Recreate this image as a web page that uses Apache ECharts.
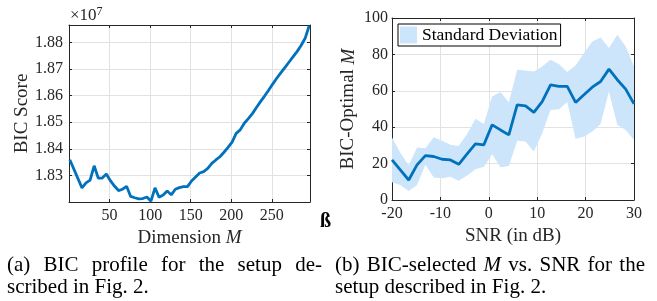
<!DOCTYPE html>
<html>
<head>
<meta charset="utf-8">
<script src="https://cdn.jsdelivr.net/npm/echarts@6/dist/echarts.min.js"></script>
<style>
html, body { margin: 0; padding: 0; background: #fff; }
#main { width: 657px; height: 301px; }
</style>
</head>
<body>
<div id="main"></div>
<script>
// (a) BIC profile, scores in units of 1e7
var dimM = [1, 16, 21, 26, 31, 36, 41, 46, 51, 56, 61, 66, 71, 76, 81, 86, 91, 96, 101, 106,
  111, 116, 121, 126, 131, 136, 141, 146, 151, 156, 161, 166, 171, 176, 181, 186, 191, 196,
  201, 206, 211, 216, 221, 226, 231, 236, 241, 246, 251, 256, 261, 266, 271, 276, 281, 286, 291, 296];
var bicScore = [1.8359, 1.8253, 1.8272, 1.8282, 1.8336, 1.8290, 1.8290, 1.8305, 1.8280, 1.8260,
  1.8243, 1.8248, 1.8259, 1.8221, 1.8216, 1.8212, 1.8213, 1.8219, 1.8203, 1.8253,
  1.8218, 1.8226, 1.8241, 1.8227, 1.8248, 1.8254, 1.8258, 1.8258, 1.8279, 1.8294,
  1.8309, 1.8314, 1.8326, 1.8345, 1.8358, 1.8370, 1.8387, 1.8405, 1.8425, 1.8458,
  1.8471, 1.8496, 1.8513, 1.8532, 1.8555, 1.8577, 1.8598, 1.8620, 1.8643, 1.8665,
  1.8685, 1.8705, 1.8725, 1.8745, 1.8765, 1.8788, 1.8815, 1.8862];

// (b) BIC-optimal M vs SNR
var snrDb = [-20, -18.28, -16.55, -14.83, -13.10, -11.38, -9.66, -7.93, -6.21, -4.48,
  -2.76, -1.03, 0.69, 2.41, 4.14, 5.86, 7.59, 9.31, 11.03, 12.76,
  14.48, 16.21, 17.93, 19.66, 21.38, 23.10, 24.83, 26.55, 28.28, 30];
var meanM = [22, 16.5, 11, 19.3, 24.4, 23.9, 22.4, 22, 19.6, 25.3,
  30.8, 30.3, 41.3, 38.5, 35.8, 52.3, 51.7, 48.1, 54.1, 63.3,
  62.4, 62.4, 53.6, 57.8, 62, 65.1, 71.9, 66.1, 60.9, 52.8];
var upperM = [34.3, 26, 18.9, 28.8, 28.4, 34.5, 32.5, 30.3, 29.7, 36.3,
  44.6, 41.8, 56.9, 59.3, 53.6, 71.5, 71.2, 70.6, 73.4, 77,
  74.7, 70.3, 73.9, 80.7, 87.1, 89.3, 83.5, 90.8, 84.4, 73.4];
var lowerM = [9.7, 8.3, 5, 8.3, 19.3, 12.3, 11.9, 12.8, 10.6, 13.4,
  16.9, 18.3, 25.1, 18, 18.7, 32.5, 32.1, 26.6, 36.7, 49.5,
  49.9, 53.8, 33.6, 34.8, 37.6, 41.7, 59.6, 41.3, 38.5, 33];

var serif = '"Liberation Serif", "Times New Roman", serif';
var axisCol = '#262626';
var gridCol = '#e2e2e2';
var blue = '#0072bd';
var bandCol = '#cce5fb';

function pairs(xs, ys) {
  return xs.map(function (x, i) { return [x, ys[i]]; });
}

function axis(grid, pos, min, max, interval, labels, fmt) {
  return {
    gridIndex: grid, type: 'value', position: pos, min: min, max: max, interval: interval,
    axisLine: { show: true, onZero: false, lineStyle: { color: axisCol, width: 1 } },
    axisTick: { show: true, inside: true, length: 3, lineStyle: { color: axisCol } },
    axisLabel: labels ? { show: true, margin: 6, color: axisCol, fontSize: 16, fontFamily: serif, formatter: fmt } : { show: false },
    splitLine: { show: labels, lineStyle: { color: gridCol, width: 1 } }
  };
}

var nameStyle = {
  color: axisCol, fontSize: 19, fontFamily: serif,
  rich: { i: { fontStyle: 'italic', color: axisCol, fontSize: 19, fontFamily: serif } }
};

var xa0 = axis(0, 'bottom', 0, 297, 50, true, function (v) {
  return (v > 0 && v % 50 === 0) ? String(v) : '';
});
xa0.name = 'Dimension {i|M}';
xa0.nameLocation = 'middle';
xa0.nameGap = 25;
xa0.nameTextStyle = nameStyle;

var ya0 = axis(0, 'left', 1.82, 1.8865, 0.01, true, function (v) {
  var k = Math.round(v * 100);
  return (Math.abs(v * 100 - k) < 1e-6 && k >= 183) ? (k / 100).toFixed(2) : '';
});
ya0.name = 'BIC Score';
ya0.nameLocation = 'middle';
ya0.nameGap = 37;
ya0.nameTextStyle = nameStyle;

var xa1 = axis(1, 'bottom', -20, 30, 10, true);
xa1.name = 'SNR (in dB)';
xa1.nameLocation = 'middle';
xa1.nameGap = 25;
xa1.nameTextStyle = nameStyle;

var ya1 = axis(1, 'left', 0, 100, 20, true);
ya1.axisLabel.margin = 4;
ya1.name = 'BIC-Optimal {i|M}';
ya1.nameLocation = 'middle';
ya1.nameGap = 34;
ya1.nameTextStyle = nameStyle;

// caption layout: justified first lines like the paper column
var ctx = document.createElement('canvas').getContext('2d');
var capSize = 21;
function capFont(it) { return (it ? 'italic ' : '') + capSize + 'px ' + serif; }
function textW(s, it) { ctx.font = capFont(it); return ctx.measureText(s).width; }
function justify(words, x0, x1, y) {
  var ws = words.map(function (w) { return textW(w.t, w.i); });
  var sum = ws.reduce(function (a, b) { return a + b; }, 0);
  var gap = (x1 - x0 - sum) / (words.length - 1);
  var x = x0, out = [];
  words.forEach(function (w, k) {
    out.push({ type: 'text', x: x, y: y, style: { text: w.t, font: capFont(w.i), fill: '#000', verticalAlign: 'middle' } });
    x += ws[k] + gap;
  });
  return out;
}
function plain(t, x, y) {
  return { type: 'text', x: x, y: y, style: { text: t, font: capFont(false), fill: '#000', verticalAlign: 'middle' } };
}

var graphics = []
  .concat(justify([{ t: '(a)' }, { t: 'BIC' }, { t: 'profile' }, { t: 'for' }, { t: 'the' }, { t: 'setup' }, { t: 'de-' }], 7, 322, 265))
  .concat([plain('scribed in Fig. 2.', 7, 287)])
  .concat(justify([{ t: '(b)' }, { t: 'BIC-selected' }, { t: 'M', i: true }, { t: 'vs.' }, { t: 'SNR' }, { t: 'for' }, { t: 'the' }], 335, 645, 265))
  .concat([plain('setup described in Fig. 2.', 335, 287)])
  .concat([
    { type: 'text', x: 70, y: 16, style: { text: '\u00d710{s|7}', fill: axisCol, font: '17px ' + serif, verticalAlign: 'middle',
      rich: { s: { fontSize: 12, fontFamily: serif, fill: axisCol, padding: [0, 0, 8, 0] } } } },
    { type: 'text', x: 320, y: 222, style: { text: '\u00df', fill: '#000', font: 'bold 20px ' + serif, verticalAlign: 'middle' } }
  ]);

// shaded band between lower and upper, drawn once as one polygon in data coordinates
function renderBand(params, api) {
  if (params.dataIndex !== 0) return;
  var pts = [];
  for (var i = 0; i < snrDb.length; i++) pts.push(api.coord([snrDb[i], upperM[i]]));
  for (var j = snrDb.length - 1; j >= 0; j--) pts.push(api.coord([snrDb[j], lowerM[j]]));
  return { type: 'polygon', shape: { points: pts }, style: { fill: bandCol } };
}

var chart = echarts.init(document.getElementById('main'), null, { renderer: 'canvas' });
chart.setOption({
  animation: false,
  backgroundColor: '#fff',
  grid: [
    { left: 69, top: 25, width: 241, height: 177 },
    { left: 392, top: 18, width: 242, height: 182 }
  ],
  xAxis: [xa0, axis(0, 'top', 0, 297, 50, false), xa1, axis(1, 'top', -20, 30, 10, false)],
  yAxis: [ya0, axis(0, 'right', 1.82, 1.8865, 0.01, false), ya1, axis(1, 'right', 0, 100, 20, false)],
  legend: {
    data: ['Standard Deviation'],
    left: 398, top: 24,
    icon: 'rect', itemWidth: 17, itemHeight: 17,
    padding: [2, 3, 2, 2],
    borderColor: '#000', borderWidth: 1, backgroundColor: '#fff',
    textStyle: { color: '#000', fontSize: 17.5, fontFamily: serif }
  },
  series: [
    {
      type: 'line', xAxisIndex: 0, yAxisIndex: 0, data: pairs(dimM, bicScore),
      showSymbol: false, lineStyle: { color: blue, width: 2.8 }, itemStyle: { color: blue }
    },
    {
      type: 'custom', name: 'Standard Deviation', xAxisIndex: 2, yAxisIndex: 2,
      data: snrDb.map(function (x, i) { return [x, lowerM[i], upperM[i]]; }),
      encode: { x: 0, y: [1, 2] },
      renderItem: renderBand, silent: true,
      itemStyle: { color: bandCol }
    },
    {
      type: 'line', name: 'mean', xAxisIndex: 2, yAxisIndex: 2, data: pairs(snrDb, meanM),
      showSymbol: false, lineStyle: { color: blue, width: 2.8 }, itemStyle: { color: blue }
    }
  ],
  graphic: graphics
});
</script>
</body>
</html>
